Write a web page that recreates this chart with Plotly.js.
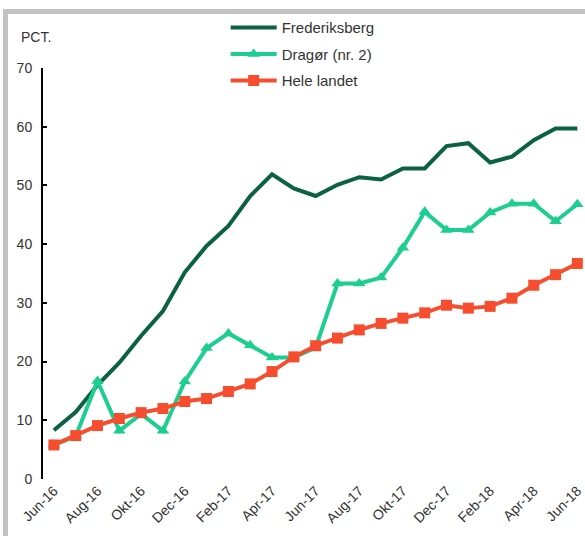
<!DOCTYPE html>
<html>
<head>
<meta charset="utf-8">
<script src="https://cdn.plot.ly/plotly-3.0.1.min.js"></script>
<style>
  html, body { margin: 0; padding: 0; background: #ffffff; }
  #frame { position: absolute; left: 3px; top: 9px; width: 700px; height: 700px;
           border-left: 5px solid #c3c3c3; border-top: 5px solid #c3c3c3; }
  #chart { position: absolute; left: 0; top: 0; width: 585px; height: 536px; }
</style>
</head>
<body>
<div id="frame"></div>
<div id="chart"></div>
<script>
const months = ["Jun-16","Jul-16","Aug-16","Sep-16","Okt-16","Nov-16","Dec-16",
  "Jan-17","Feb-17","Mar-17","Apr-17","Maj-17","Jun-17","Jul-17","Aug-17","Sep-17",
  "Okt-17","Nov-17","Dec-17","Jan-18","Feb-18","Mar-18","Apr-18","Maj-18","Jun-18"];
const tickLabels = ["Jun-16","Aug-16","Okt-16","Dec-16","Feb-17","Apr-17","Jun-17",
  "Aug-17","Okt-17","Dec-17","Feb-18","Apr-18","Jun-18"];
const frederiksberg = [8.3,11.4,16.0,19.8,24.4,28.6,35.2,39.7,43.1,48.2,51.9,49.5,48.2,
  50.1,51.4,51.0,52.9,52.9,56.7,57.2,53.9,54.9,57.7,59.7,59.7];
const dragor = [5.8,7.3,16.7,8.2,11.1,8.2,16.6,22.3,24.8,22.8,20.7,20.7,22.4,
  33.3,33.3,34.3,39.4,45.5,42.4,42.4,45.4,46.9,46.9,43.9,46.8];
const heleLandet = [5.8,7.4,9.1,10.3,11.3,12.0,13.2,13.7,14.9,16.2,18.3,20.8,22.7,
  24.0,25.4,26.5,27.4,28.3,29.6,29.1,29.4,30.8,33.0,34.8,36.7];
const names = ["Frederiksberg","Dragør (nr. 2)","Hele landet"];

const xIdx = months.map((m, i) => i);
const tickIdx = tickLabels.map(t => months.indexOf(t));

const traces = [
  { x: xIdx, y: frederiksberg, name: names[0], legendgroup: "a", type: "scatter", mode: "lines",
    line: { color: "#0b6143", width: 4 } },
  { x: xIdx, y: dragor, name: names[1], legendgroup: "b", type: "scatter", mode: "lines+markers",
    line: { color: "#1dce91", width: 4 },
    marker: { symbol: "triangle-up", size: 11, color: "#1dce91" } },
  { x: xIdx, y: heleLandet, name: names[2], legendgroup: "c", type: "scatter", mode: "lines+markers",
    line: { color: "#f64d2f", width: 4 },
    marker: { symbol: "square", size: 11, color: "#f64d2f" } }
];

const layout = {
  width: 585, height: 536,
  margin: { l: 43, r: 0, t: 68, b: 57 },
  paper_bgcolor: "rgba(0,0,0,0)",
  plot_bgcolor: "rgba(0,0,0,0)",
  font: { family: "Liberation Sans, Arial, sans-serif", size: 14, color: "#333333" },
  showlegend: true,
  legend: { x: 0.337, y: 1.138, xanchor: "left", yanchor: "top",
            bgcolor: "rgba(0,0,0,0)", font: { size: 15, color: "#333333" },
            itemwidth: 46, tracegroupgap: 4 },
  xaxis: {
    range: [-0.5, 24.35], tickmode: "array", tickvals: tickIdx, ticktext: tickLabels,
    tickangle: -45, showgrid: false, zeroline: false, showline: false,
    ticks: "", tickfont: { size: 14, color: "#333333" }, ticklabeloverflow: "allow",
    fixedrange: true
  },
  yaxis: {
    range: [0, 70], dtick: 10, showgrid: false, zeroline: false,
    showline: true, linecolor: "#000000", linewidth: 2,
    ticks: "inside", ticklen: 4, tickwidth: 2, tickcolor: "#000000",
    tickfont: { size: 14, color: "#333333" }, ticklabelstandoff: 6, fixedrange: true
  },
  annotations: [
    { text: "PCT.", xref: "paper", yref: "paper", x: -0.045, y: 1.075,
      xanchor: "left", yanchor: "middle", showarrow: false,
      font: { size: 14, color: "#333333" } }
  ]
};

Plotly.newPlot("chart", traces, layout, { displayModeBar: false, staticPlot: true });
</script>
</body>
</html>
